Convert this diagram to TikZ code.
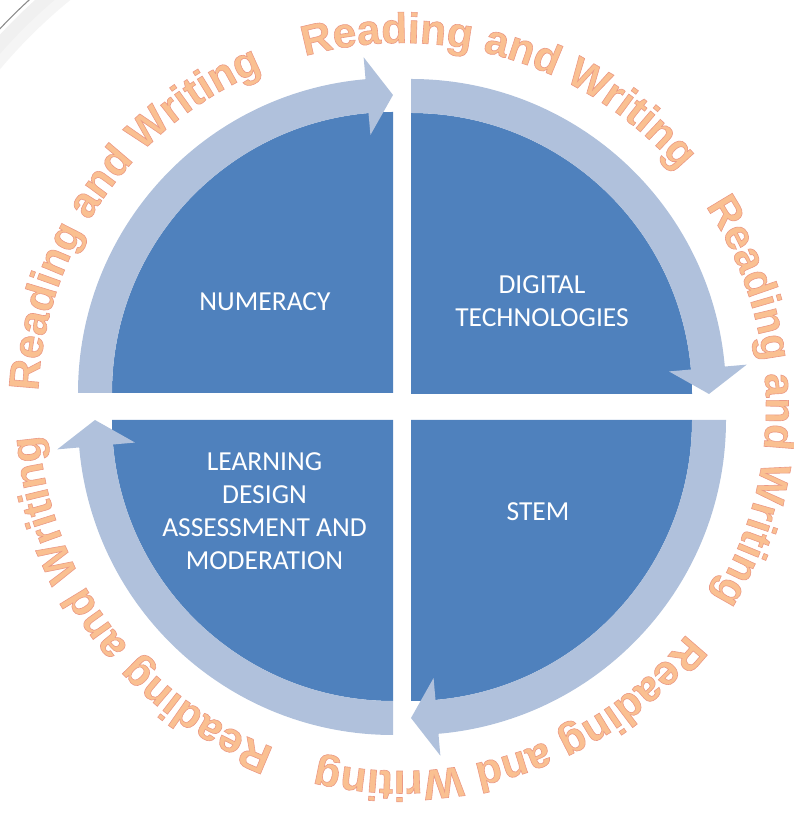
\documentclass[tikz,border=0pt]{standalone}
\usepackage{fontspec}
\setmainfont{Carlito}
\newfontfamily\rwfont{Liberation Sans}
\usetikzlibrary{decorations.text}
\definecolor{quadblue}{RGB}{79,129,189}
\definecolor{bandblue}{RGB}{176,193,220}
\definecolor{rwfill}{RGB}{250,192,145}
\newcommand\rwoutline{\special{pdf:literal direct 0.92 0.60 0.52 RG 0.6 w 2 Tr}}
\tikzset{quad/.style={fill=quadblue},band/.style={fill=bandblue},quadtext/.style={text=white,align=center,inner sep=0pt,font=\fontsize{27.5}{33}\selectfont},rimtext/.style={decorate,decoration={text along path,text={|\rwfont\bfseries\fontsize{42.5}{43}\selectfont\color{rwfill}\rwoutline|Reading and Writing}}}}

\begin{document}
\begin{tikzpicture}[x=1pt,y=1pt]
\useasboundingbox (0,0) rectangle (794,819);
\coordinate (nw) at (393,426);
\coordinate (ne) at (411,425);
\coordinate (se) at (411,399);
\coordinate (sw) at (393,399);
\coordinate (mid) at (402,412);
% faint rim in the corner
\draw[black!6,line width=14pt] ([shift={(122:541)}]mid) arc[start angle=122,end angle=144,radius=541];
\draw[black!4,line width=10pt] ([shift={(122:530)}]mid) arc[start angle=122,end angle=144,radius=530];
\draw[black!45,line width=1.1pt] ([shift={(122:552)}]mid) arc[start angle=122,end angle=144,radius=552];
% quarter discs
\fill[quad] (nw) -- ++(180:281) arc[start angle=180,end angle=90,radius=281] -- cycle;
\fill[quad] (ne) -- ++(90:281) arc[start angle=90,end angle=0,radius=281] -- cycle;
\fill[quad] (se) -- ++(0:281) arc[start angle=0,end angle=-90,radius=281] -- cycle;
\fill[quad] (sw) -- ++(270:281) arc[start angle=270,end angle=180,radius=281] -- cycle;
% curved arrows
\fill[band] ([shift={(180:281)}]nw) -- ([shift={(180:315)}]nw) arc[start angle=180,end angle=95,radius=315] -- ([shift={(95:337)}]nw) -- ([shift={(90:298)}]nw) -- ([shift={(95:259)}]nw) -- ([shift={(95:281)}]nw) arc[start angle=95,end angle=180,radius=281] -- cycle;
\fill[band] ([shift={(90:281)}]ne) -- ([shift={(90:315)}]ne) arc[start angle=90,end angle=5,radius=315] -- ([shift={(5:337)}]ne) -- ([shift={(0:298)}]ne) -- ([shift={(5:259)}]ne) -- ([shift={(5:281)}]ne) arc[start angle=5,end angle=90,radius=281] -- cycle;
\fill[band] ([shift={(0:281)}]se) -- ([shift={(0:315)}]se) arc[start angle=0,end angle=-85,radius=315] -- ([shift={(-85:337)}]se) -- ([shift={(-90:298)}]se) -- ([shift={(-85:259)}]se) -- ([shift={(-85:281)}]se) arc[start angle=-85,end angle=0,radius=281] -- cycle;
\fill[band] ([shift={(270:281)}]sw) -- ([shift={(270:315)}]sw) arc[start angle=270,end angle=185,radius=315] -- ([shift={(185:337)}]sw) -- ([shift={(180:298)}]sw) -- ([shift={(185:259)}]sw) -- ([shift={(185:281)}]sw) arc[start angle=185,end angle=270,radius=281] -- cycle;
% labels
\node[quadtext] (numeracy) at (265,517) {NUMERACY};
\node[quadtext] (digital) at (542,518) {DIGITAL\\TECHNOLOGIES};
\node[quadtext] (stem) at (538,307) {STEM};
\node[quadtext] (learning) at (264.5,308) {LEARNING\\DESIGN\\ASSESSMENT AND\\MODERATION};
% lettering round the rim
\path[rimtext] ([shift={(105.5:364)}]mid) arc[start angle=105.5,end angle=30,radius=364];
\path[rimtext] ([shift={(33.5:364)}]mid) arc[start angle=33.5,end angle=-42,radius=364];
\path[rimtext] ([shift={(-38.5:364)}]mid) arc[start angle=-38.5,end angle=-114,radius=364];
\path[rimtext] ([shift={(-110.5:364)}]mid) arc[start angle=-110.5,end angle=-186,radius=364];
\path[rimtext] ([shift={(-182.5:364)}]mid) arc[start angle=-182.5,end angle=-258,radius=364];
\end{tikzpicture}
\end{document}
